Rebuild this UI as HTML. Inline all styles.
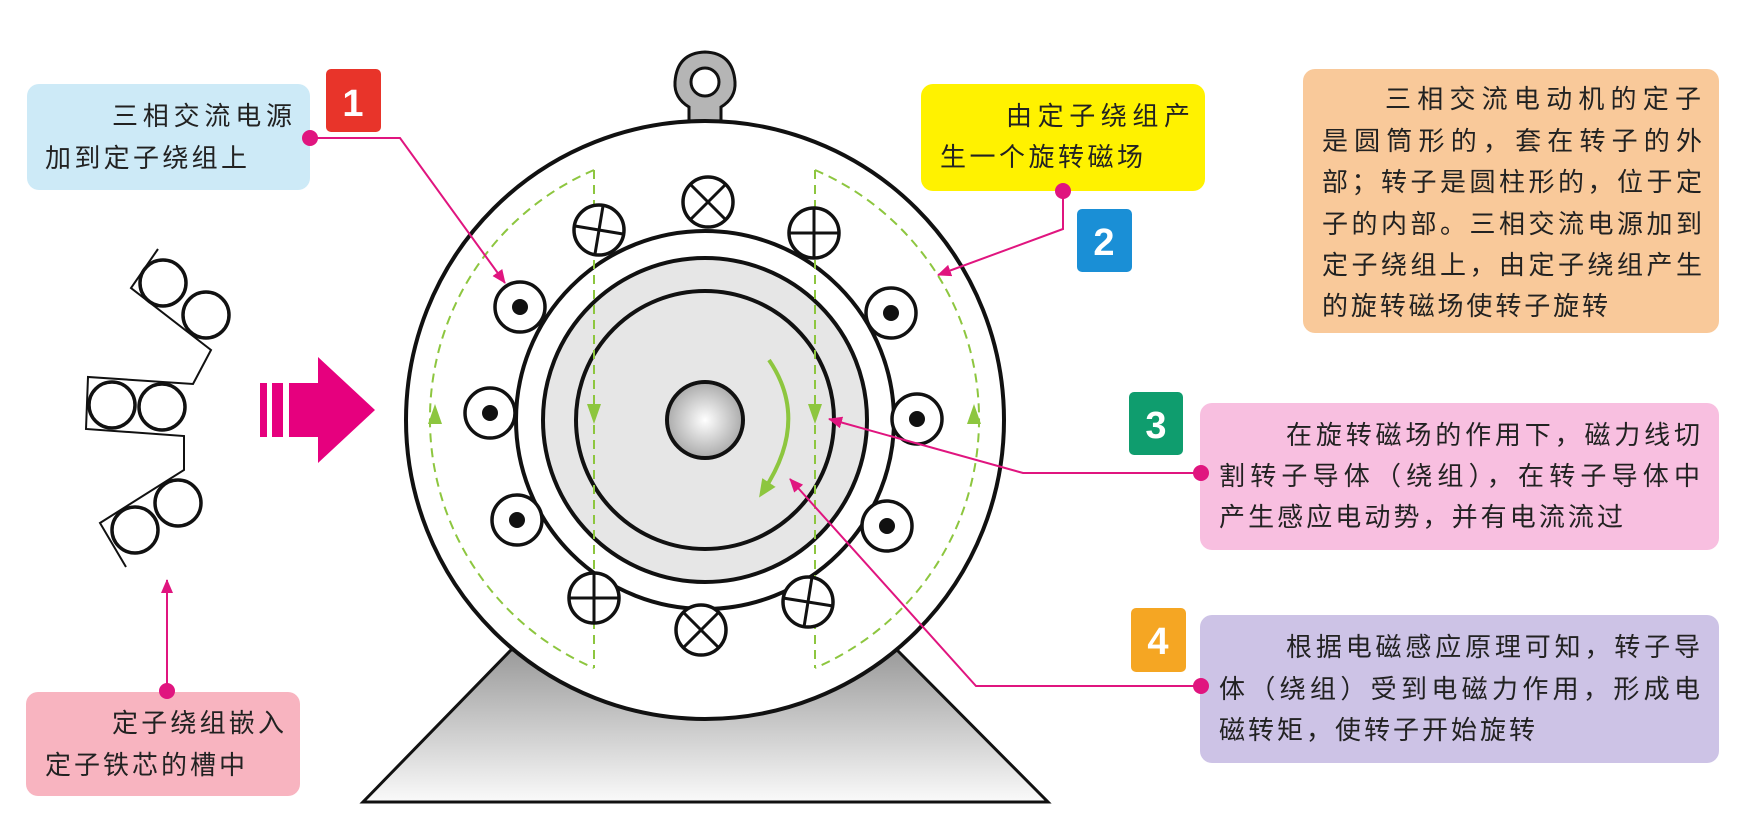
<!DOCTYPE html>
<html><head><meta charset="utf-8"><style>
html,body{margin:0;padding:0;background:#fff;}
svg{display:block;}
text{font-family:"Liberation Sans","Noto Sans CJK SC",sans-serif;}
.t{font-size:26px;fill:#222;}
.b{font-size:38px;font-weight:bold;fill:#fff;font-family:"Liberation Sans",sans-serif;}
</style></head><body>
<svg width="1754" height="822" viewBox="0 0 1754 822" xmlns="http://www.w3.org/2000/svg">
<defs>
<linearGradient id="gb" x1="0" y1="0" x2="0" y2="1"><stop offset="0" stop-color="#9a9a9a"/><stop offset="1" stop-color="#fafafa"/></linearGradient>
<radialGradient id="gs" cx="0.5" cy="0.5" r="0.6"><stop offset="0" stop-color="#fff"/><stop offset="1" stop-color="#9a9a9a"/></radialGradient>
<marker id="ma" markerWidth="14" markerHeight="12" refX="13" refY="6" orient="auto" markerUnits="userSpaceOnUse"><path d="M0,0 L14,6 L0,12 z" fill="#e0157f"/></marker>
<marker id="mg" markerWidth="18" markerHeight="18" refX="9" refY="9" orient="auto" markerUnits="userSpaceOnUse"><path d="M0,1 L18,9 L0,17 z" fill="#8dc63f"/></marker>
</defs>

<!-- left boxes -->
<rect x="27" y="84" width="283" height="106" rx="12" fill="#cdeaf7"/>
<text class="t" x="112" y="125" textLength="180" lengthAdjust="spacing">三相交流电源</text>
<text class="t" x="45" y="167" textLength="202" lengthAdjust="spacing">加到定子绕组上</text>
<rect x="326" y="69" width="55" height="63" rx="5" fill="#e8342a"/>
<text class="b" x="353" y="116" text-anchor="middle">1</text>

<rect x="26" y="692" width="274" height="104" rx="12" fill="#f8b4c0"/>
<text class="t" x="112" y="732" textLength="172" lengthAdjust="spacing">定子绕组嵌入</text>
<text class="t" x="45" y="774" textLength="200" lengthAdjust="spacing">定子铁芯的槽中</text>

<!-- left winding diagram -->
<g fill="none" stroke="#111" stroke-width="2">
<polyline points="158,249 131,288 211,350 193,384 88,377 86,429 184,436 184,470 100,523 126,567"/>
</g>
<g fill="none" stroke="#111" stroke-width="3.5">
<circle cx="163" cy="283" r="23"/><circle cx="206" cy="315" r="23"/>
<circle cx="112" cy="405" r="23"/><circle cx="162" cy="407" r="23"/>
<circle cx="178" cy="503" r="23"/><circle cx="135" cy="530" r="23"/>
</g>
<!-- magenta arrow -->
<g fill="#e6007e">
<rect x="260" y="383" width="7" height="54"/><rect x="272" y="383" width="11" height="54"/>
<path d="M289,383 L318,383 L318,357 L375,410 L318,463 L318,437 L289,437 z"/>
</g>
<line x1="167" y1="691" x2="167" y2="580" stroke="#e0157f" stroke-width="2" marker-end="url(#ma)"/>
<circle cx="167" cy="691" r="8" fill="#e0157f"/>

<!-- base -->
<polygon points="511,650 897,650 1048,802 363,802" fill="url(#gb)" stroke="#111" stroke-width="3"/>
<!-- lug -->
<path d="M689,124 L689,107 Q674,98 675,82 Q677,53 705,52 Q733,53 735,82 Q736,98 721,107 L721,124 z" fill="#b5b5b5" stroke="#111" stroke-width="3"/>
<circle cx="705" cy="82" r="14" fill="#fff" stroke="#111" stroke-width="3"/>
<!-- main circle -->
<circle cx="705" cy="420" r="299" fill="#fff" stroke="#111" stroke-width="4"/>
<circle cx="705" cy="420" r="189" fill="#fff" stroke="#111" stroke-width="4"/>
<circle cx="705" cy="420" r="162" fill="#e6e6e6" stroke="#111" stroke-width="4"/>
<circle cx="705" cy="420" r="129" fill="#e6e6e6" stroke="#111" stroke-width="4"/>
<circle cx="705" cy="420" r="38" fill="url(#gs)" stroke="#111" stroke-width="4"/>

<!-- green dashed field lines -->
<g fill="none" stroke="#8dc63f" stroke-width="2" stroke-dasharray="9,6">
<line x1="594" y1="170" x2="594" y2="668"/>
<line x1="815" y1="170" x2="815" y2="668"/>
<path d="M594,170 A271,271 0 0 0 594,668"/>
<path d="M815,170 A271,271 0 0 1 815,668"/>
</g>
<g fill="#8dc63f">
<path d="M587,404 L601,404 L594,424 z"/>
<path d="M808,404 L822,404 L815,424 z"/>
<path d="M428,424 L442,424 L435,404 z"/>
<path d="M967,424 L981,424 L974,404 z"/>
</g>
<path d="M769,360 Q810,420 764,490" fill="none" stroke="#8dc63f" stroke-width="4" marker-end="url(#mg)"/>

<!-- coils -->
<g fill="#fff" stroke="#111" stroke-width="3.5">
<circle cx="520" cy="307" r="25"/><circle cx="891" cy="313" r="25"/>
<circle cx="490" cy="413" r="25"/><circle cx="917" cy="419" r="25"/>
<circle cx="517" cy="520" r="25"/><circle cx="887" cy="526" r="25"/>
<circle cx="708" cy="202" r="25"/><circle cx="701" cy="630" r="25"/>
<circle cx="599" cy="230" r="25"/><circle cx="814" cy="233" r="25"/>
<circle cx="594" cy="598" r="25"/><circle cx="808" cy="602" r="25"/>
</g>
<g fill="#111">
<circle cx="520" cy="307" r="8"/><circle cx="891" cy="313" r="8"/>
<circle cx="490" cy="413" r="8"/><circle cx="917" cy="419" r="8"/>
<circle cx="517" cy="520" r="8"/><circle cx="887" cy="526" r="8"/>
</g>
<g stroke="#111" stroke-width="3">
<line x1="690" y1="184" x2="726" y2="220"/><line x1="726" y1="184" x2="690" y2="220"/>
<line x1="683" y1="612" x2="719" y2="648"/><line x1="719" y1="612" x2="683" y2="648"/>
<line x1="575" y1="226" x2="623" y2="234"/><line x1="603" y1="206" x2="595" y2="254"/>
<line x1="789" y1="233" x2="839" y2="233"/><line x1="814" y1="208" x2="814" y2="258"/>
<line x1="569" y1="598" x2="619" y2="598"/><line x1="594" y1="573" x2="594" y2="623"/>
<line x1="783" y1="598" x2="833" y2="606"/><line x1="812" y1="577" x2="804" y2="627"/>
</g>

<!-- right boxes -->
<rect x="921" y="84" width="284" height="107" rx="12" fill="#fff200"/>
<text class="t" x="1006" y="125" textLength="184" lengthAdjust="spacing">由定子绕组产</text>
<text class="t" x="940" y="166" textLength="203" lengthAdjust="spacing">生一个旋转磁场</text>
<rect x="1077" y="209" width="55" height="63" rx="5" fill="#1a8fd6"/>
<text class="b" x="1104" y="255" text-anchor="middle">2</text>

<rect x="1303" y="69" width="416" height="264" rx="12" fill="#f9c99a"/>
<text class="t" x="1385" y="108" textLength="316" lengthAdjust="spacing">三相交流电动机的定子</text>
<text class="t" x="1322" y="150" textLength="380" lengthAdjust="spacing">是圆筒形的，套在转子的外</text>
<text class="t" x="1322" y="191" textLength="380" lengthAdjust="spacing">部；转子是圆柱形的，位于定</text>
<text class="t" x="1322" y="233" textLength="380" lengthAdjust="spacing">子的内部。三相交流电源加到</text>
<text class="t" x="1322" y="274" textLength="380" lengthAdjust="spacing">定子绕组上，由定子绕组产生</text>
<text class="t" x="1322" y="315" textLength="286" lengthAdjust="spacing">的旋转磁场使转子旋转</text>

<rect x="1129" y="392" width="54" height="63" rx="5" fill="#0f9d6e"/>
<text class="b" x="1156" y="438" text-anchor="middle">3</text>
<rect x="1200" y="403" width="519" height="147" rx="12" fill="#f8bfe0"/>
<text class="t" x="1286" y="444" textLength="414" lengthAdjust="spacing">在旋转磁场的作用下，磁力线切</text>
<text class="t" x="1219" y="485" textLength="481" lengthAdjust="spacing">割转子导体（绕组），在转子导体中</text>
<text class="t" x="1219" y="526" textLength="404" lengthAdjust="spacing">产生感应电动势，并有电流流过</text>

<rect x="1131" y="608" width="55" height="64" rx="5" fill="#f5a623"/>
<text class="b" x="1158" y="654" text-anchor="middle">4</text>
<rect x="1200" y="615" width="519" height="148" rx="12" fill="#cdc3e6"/>
<text class="t" x="1286" y="656" textLength="414" lengthAdjust="spacing">根据电磁感应原理可知，转子导</text>
<text class="t" x="1219" y="698" textLength="481" lengthAdjust="spacing">体（绕组）受到电磁力作用，形成电</text>
<text class="t" x="1219" y="739" textLength="316" lengthAdjust="spacing">磁转矩，使转子开始旋转</text>

<!-- connectors (on top) -->
<g fill="none" stroke="#e0157f" stroke-width="2">
<polyline points="310,138 400,138 505,283" marker-end="url(#ma)"/>
<polyline points="1063,191 1063,229 938,275" marker-end="url(#ma)"/>
<polyline points="1201,473 1023,473 829,419" marker-end="url(#ma)"/>
<polyline points="1201,686 976,686 790,479" marker-end="url(#ma)"/>
</g>
<g fill="#e0157f">
<circle cx="310" cy="138" r="8"/><circle cx="1063" cy="191" r="8"/>
<circle cx="1201" cy="473" r="8"/><circle cx="1201" cy="686" r="8"/>
</g>
</svg>
</body></html>
